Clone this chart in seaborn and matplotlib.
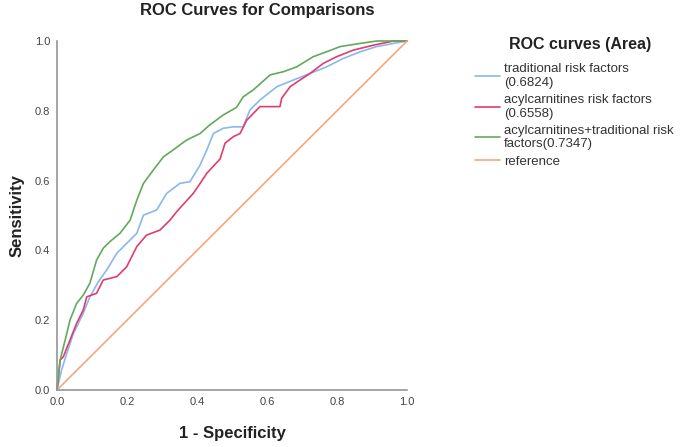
import matplotlib
matplotlib.use('Agg')
import matplotlib.pyplot as plt
import pandas as pd
import numpy as np
import seaborn as sns

# ROC points (1 - specificity, sensitivity)
trad_fpr = [0.0, 0.013, 0.028, 0.047, 0.075, 0.094, 0.118, 0.142, 0.171, 0.199, 0.228, 0.247, 0.285,
            0.313, 0.351, 0.38, 0.409, 0.428, 0.447, 0.475, 0.504, 0.532, 0.551, 0.58, 0.628, 0.675,
            0.723, 0.77, 0.818, 0.866, 0.913, 0.961, 1.0]
trad_tpr = [0.0, 0.057, 0.105, 0.162, 0.22, 0.267, 0.31, 0.344, 0.392, 0.42, 0.449, 0.501, 0.516,
            0.563, 0.592, 0.597, 0.645, 0.688, 0.735, 0.75, 0.754, 0.754, 0.802, 0.831, 0.869, 0.888,
            0.907, 0.926, 0.95, 0.969, 0.984, 0.993, 1.0]

acyl_fpr = [0.0, 0.009, 0.018, 0.037, 0.056, 0.075, 0.085, 0.113, 0.132, 0.171, 0.199, 0.228, 0.256,
            0.294, 0.323, 0.342, 0.389, 0.409, 0.428, 0.466, 0.48, 0.504, 0.523, 0.542, 0.58, 0.637,
            0.642, 0.666, 0.694, 0.723, 0.761, 0.799, 0.847, 0.904, 0.961, 1.0]
acyl_tpr = [0.0, 0.086, 0.095, 0.143, 0.191, 0.229, 0.267, 0.277, 0.315, 0.325, 0.353, 0.411, 0.444,
            0.458, 0.487, 0.511, 0.563, 0.592, 0.621, 0.662, 0.707, 0.726, 0.735, 0.773, 0.812, 0.812,
            0.836, 0.869, 0.888, 0.907, 0.936, 0.955, 0.974, 0.988, 1.0, 1.0]

comb_fpr = [0.0, 0.009, 0.028, 0.037, 0.056, 0.075, 0.094, 0.113, 0.132, 0.151, 0.18, 0.209, 0.228,
            0.247, 0.275, 0.304, 0.332, 0.37, 0.409, 0.437, 0.475, 0.513, 0.532, 0.561, 0.609, 0.647,
            0.685, 0.732, 0.77, 0.809, 0.866, 0.913, 1.0]
comb_tpr = [0.0, 0.086, 0.162, 0.2, 0.248, 0.272, 0.306, 0.372, 0.406, 0.425, 0.449, 0.487, 0.544,
            0.592, 0.63, 0.668, 0.688, 0.716, 0.735, 0.76, 0.788, 0.81, 0.84, 0.86, 0.903, 0.912,
            0.926, 0.955, 0.969, 0.984, 0.993, 1.0, 1.0]

ref_x = [0.0, 1.0]
ref_y = [0.0, 1.0]

labels = ['traditional risk factors\n(0.6824)',
          'acylcarnitines risk factors\n(0.6558)',
          'acylcarnitines+traditional risk\nfactors(0.7347)',
          'reference']
colors = ['#88b8ef', '#e23c6c', '#62aa5b', '#f6a67c']

sns.set_style('white')
plt.rcParams['font.family'] = ['Liberation Sans', 'DejaVu Sans']

fig = plt.figure(figsize=(6.85, 4.47), dpi=100)
ax = fig.add_axes([57 / 685, 1 - 390 / 447, 350 / 685, 349 / 447])

series = [(trad_fpr, trad_tpr), (acyl_fpr, acyl_tpr), (comb_fpr, comb_tpr), (ref_x, ref_y)]
for (xs, ys), lab, col in zip(series, labels, colors):
    df = pd.DataFrame({'fpr': xs, 'tpr': ys})
    sns.lineplot(data=df, x='fpr', y='tpr', estimator=None, sort=False, color=col,
                 linewidth=1.2, label=lab, ax=ax, clip_on=False)

ax.set_xlim(0, 1)
ax.set_ylim(0, 1)
ticks = np.arange(0, 1.01, 0.2)
ax.set_xticks(ticks)
ax.set_yticks(ticks)
ax.set_xticklabels([f'{t:.1f}' for t in ticks])
ax.set_yticklabels([f'{t:.1f}' for t in ticks])
ax.tick_params(length=0, labelsize=8, labelcolor='#444444', pad=5)
for s in ['top', 'right']:
    ax.spines[s].set_visible(False)
for s in ['left', 'bottom']:
    ax.spines[s].set_color('#959595')
    ax.spines[s].set_linewidth(1.2)

ax.set_xlabel('1 - Specificity', fontsize=12, fontweight='bold', color='#222222', labelpad=14)
ax.set_ylabel('Sensitivity', fontsize=12, fontweight='bold', color='#222222', labelpad=7)
fig.text(257 / 685, 1 - 11 / 447, 'ROC Curves for Comparisons', ha='center', va='center',
         fontsize=12, fontweight='bold', color='#222222')

# legend title drawn on its own so its gap to the entries can be set freely
fig.text(580 / 685, 1 - 45 / 447, 'ROC curves (Area)', ha='center', va='center',
         fontsize=11.5, fontweight='bold', color='#222222')
leg = ax.legend(loc='upper left', bbox_to_anchor=(475 / 685, 1 - 63 / 447),
                bbox_transform=fig.transFigure, frameon=False, fontsize=9.5,
                handlelength=1.9, handletextpad=0.3,
                labelspacing=0.38, borderpad=0, borderaxespad=0)
for t in leg.get_texts():
    t.set_color('#333333')
    t.set_linespacing(1.2)

fig.savefig('out.png', dpi=100)
